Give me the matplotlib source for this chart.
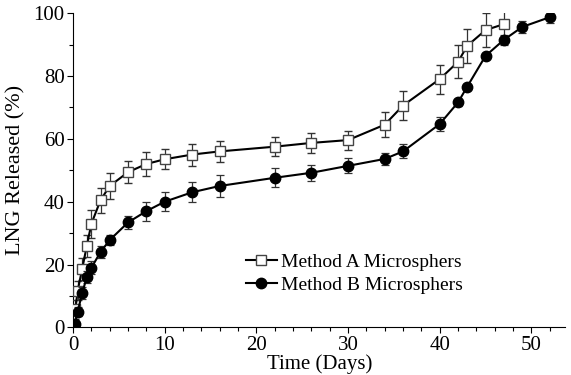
import matplotlib.pyplot as plt
from matplotlib.lines import Line2D
from matplotlib.ticker import MultipleLocator

# release data
days_a = [0.25, 0.5, 1, 1.5, 2, 3, 4, 6, 8, 10, 13, 16, 22, 26, 30, 34, 36, 40, 42, 43, 45, 47]
rel_a = [5.7, 11.7, 18.7, 26, 33, 40.5, 45, 49.4, 52, 53.5, 55, 56, 57.5, 58.7, 59.6,
         64.5, 70.6, 79, 84.5, 89.6, 94.6, 96.5]
err_a = [3, 3, 3.5, 3.5, 4.5, 4, 4, 3.6, 3.7, 3.2, 3.5, 3.3, 3, 3.3, 3, 4, 4.6, 4.6,
         5.2, 5.4, 5.4, 4.7]

days_b = [0.2, 0.5, 1, 1.5, 2, 3, 4, 6, 8, 10, 13, 16, 22, 26, 30, 34, 36, 40, 42, 43,
          45, 47, 49, 52]
rel_b = [1, 5, 11, 16, 19, 24, 27.8, 33.4, 37, 40, 43, 45, 47.6, 49.2, 51.4, 53.6, 56,
         64.7, 71.6, 76.6, 86.4, 91.5, 95.6, 98.7]
err_b = [1, 1.5, 2, 2, 2, 2, 1.5, 2.2, 3, 3, 3.2, 3.4, 3, 2.5, 2.4, 2, 2.2, 2.1, 1,
         1, 1, 1.6, 1.8, 2]

labels = ['Method A Microsphers', 'Method B Microsphers']

plt.rcParams['font.family'] = ['Liberation Serif', 'DejaVu Serif']

fig = plt.figure(figsize=(5.71, 3.75), dpi=100)
ax = fig.add_axes([0.128, 0.127, 0.862, 0.838])

style_a = dict(color='black', lw=1.5, marker='s', ms=7, mfc='white', mec='#444444', mew=1.0)
style_b = dict(color='black', lw=1.5, marker='o', ms=7.5, mfc='black', mec='black')

ax.errorbar(days_a, rel_a, yerr=err_a, ecolor='#333333', elinewidth=0.9,
            capsize=3, capthick=0.9, zorder=3, **style_a)
ax.errorbar(days_b, rel_b, yerr=err_b, ecolor='#333333', elinewidth=0.9,
            capsize=3, capthick=0.9, zorder=4, **style_b)

ax.set_xlim(0, 53.7)
ax.set_ylim(0, 100)
ax.xaxis.set_major_locator(MultipleLocator(10))
ax.xaxis.set_minor_locator(MultipleLocator(2))
ax.yaxis.set_major_locator(MultipleLocator(20))
ax.yaxis.set_minor_locator(MultipleLocator(10))
ax.tick_params(which='major', direction='out', length=4, width=0.8, labelsize=15, pad=2)
ax.tick_params(which='minor', direction='out', length=3, width=0.8)

for side in ['top', 'right']:
    ax.spines[side].set_visible(False)

ax.set_xlabel('Time (Days)', fontsize=15, labelpad=0)
ax.set_ylabel('LNG Released (%)', fontsize=16, labelpad=6)

# legend without the error bars
handles = [Line2D([], [], **style_a), Line2D([], [], **style_b)]
ax.legend(handles, labels, loc='upper left', bbox_to_anchor=(0.335, 0.26), frameon=False,
          fontsize=14, handlelength=1.6, handletextpad=0.2, labelspacing=0.25,
          borderaxespad=0)

plt.savefig('out.png', dpi=100)
plt.close()
